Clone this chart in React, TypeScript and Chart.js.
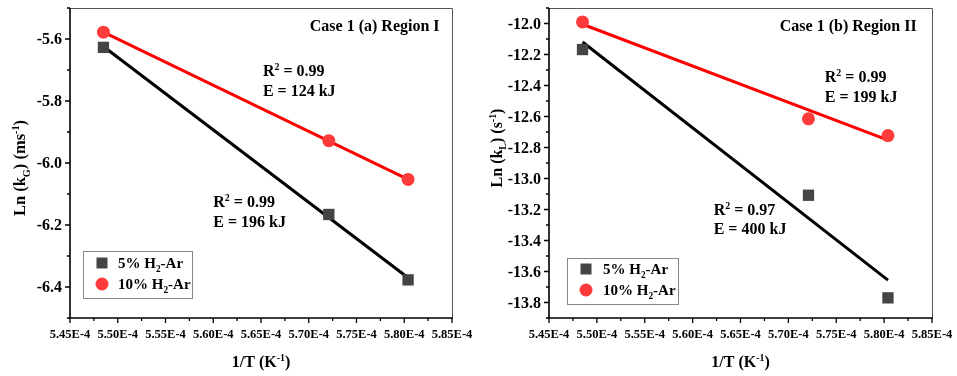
import React, { useEffect, useRef } from "react";
import { Chart, registerables } from "chart.js";
Chart.register(...registerables);

// ---------- data ----------
const invT = [5.485e-4, 5.721e-4, 5.804e-4];
const fitX = [5.485e-4, 5.804e-4];

const r1_h5 = [-5.627, -6.166, -6.377];
const r1_h10 = [-5.578, -5.928, -6.053];
const r1_fit5 = [-5.624, -6.37];
const r1_fit10 = [-5.578, -6.053];

const r2_h5 = [-12.168, -13.108, -13.77];
const r2_h10 = [-11.99, -12.615, -12.723];
const r2_fit5 = [-12.119, -13.656];
const r2_fit10 = [-12.005, -12.753];

const xMajor = [5.45e-4, 5.5e-4, 5.55e-4, 5.6e-4, 5.65e-4, 5.7e-4, 5.75e-4, 5.8e-4, 5.85e-4];
const xMinor = [5.475e-4, 5.525e-4, 5.575e-4, 5.625e-4, 5.675e-4, 5.725e-4, 5.775e-4, 5.825e-4];
const r1_yMajor = [-6.4, -6.2, -6.0, -5.8, -5.6];
const r1_yMinor = [-6.5, -6.3, -6.1, -5.9, -5.7, -5.5];
const r2_yMajor = [-13.8, -13.6, -13.4, -13.2, -13.0, -12.8, -12.6, -12.4, -12.2, -12.0];
const r2_yMinor = [-13.9, -13.7, -13.5, -13.3, -13.1, -12.9, -12.7, -12.5, -12.3, -12.1, -11.9];

const legendLabels = ["5% H|2|-Ar", "10% H|2|-Ar"];

type Seg = [string, number]; // 0 normal, 1 sub, 2 sup
const S = {
  r2: (v: string): Seg[] => [["R", 0], ["2", 2], [" = " + v, 0]],
};

const r1_notes = [
  { x: 5.837e-4, y: -5.574, segs: [["Case 1 (a) Region I", 0]] as Seg[], align: "right" },
  { x: 5.652e-4, y: -5.719, segs: S.r2("0.99"), align: "left" },
  { x: 5.652e-4, y: -5.784, segs: [["E = 124 kJ", 0]] as Seg[], align: "left" },
  { x: 5.600e-4, y: -6.142, segs: S.r2("0.99"), align: "left" },
  { x: 5.600e-4, y: -6.207, segs: [["E = 196 kJ", 0]] as Seg[], align: "left" },
];
const r2_notes = [
  { x: 5.834e-4, y: -12.048, segs: [["Case 1 (b) Region II", 0]] as Seg[], align: "right" },
  { x: 5.738e-4, y: -12.377, segs: S.r2("0.99"), align: "left" },
  { x: 5.738e-4, y: -12.506, segs: [["E = 199 kJ", 0]] as Seg[], align: "left" },
  { x: 5.622e-4, y: -13.235, segs: S.r2("0.97"), align: "left" },
  { x: 5.622e-4, y: -13.358, segs: [["E = 400 kJ", 0]] as Seg[], align: "left" },
];

const FONT = '"Liberation Serif", "Times New Roman", serif';
const SQ_COLOR = "#444444";
const CI_COLOR = "#ff3a3a";

function segWidth(ctx: CanvasRenderingContext2D, segs: Seg[], size: number) {
  let w = 0;
  for (const [t, m] of segs) {
    ctx.font = `bold ${m ? size * 0.62 : size}px ${FONT}`;
    w += ctx.measureText(t).width;
  }
  return w;
}
function drawRich(ctx: CanvasRenderingContext2D, segs: Seg[], x: number, y: number, size: number, align: string) {
  const total = segWidth(ctx, segs, size);
  let cx = align === "left" ? x : align === "center" ? x - total / 2 : x - total;
  ctx.textAlign = "left";
  ctx.textBaseline = "alphabetic";
  ctx.fillStyle = "#000";
  for (const [t, m] of segs) {
    const s = m ? size * 0.62 : size;
    const dy = m === 1 ? size * 0.28 : m === 2 ? -size * 0.38 : 0;
    ctx.font = `bold ${s}px ${FONT}`;
    ctx.fillText(t, cx, y + dy);
    cx += ctx.measureText(t).width;
  }
}
function parseLabel(l: string): Seg[] {
  const p = l.split("|");
  return [[p[0], 0], [p[1], 1], [p[2], 0]];
}

interface Panel {
  width: number;
  areaLeft: number;
  areaRight: number;
  yMin: number;
  yMax: number;
  yMajor: number[];
  yMinor: number[];
  h5: number[];
  h10: number[];
  fit5: number[];
  fit10: number[];
  notes: { x: number; y: number; segs: Seg[]; align: string }[];
  yTitle: Seg[];
  yTitleSize: number;
  yTitleX: number;
  yTitleY: number;
  legend: { left: number; top: number; w: number; h: number; mx: number; tx: number; y1: number; y2: number };
}

const panels: Panel[] = [
  {
    width: 478, areaLeft: 70, areaRight: 452, yMin: -6.5, yMax: -5.5,
    yMajor: r1_yMajor, yMinor: r1_yMinor, h5: r1_h5, h10: r1_h10, fit5: r1_fit5, fit10: r1_fit10,
    notes: r1_notes,
    yTitle: [["Ln (k", 0], ["G", 1], [") (ms", 0], ["-1", 2], [")", 0]],
    yTitleSize: 16.5,
    yTitleX: 25, yTitleY: 168,
    legend: { left: 83, top: 251, w: 109, h: 47, mx: 102, tx: 118, y1: 263, y2: 284 },
  },
  {
    width: 479, areaLeft: 71, areaRight: 454, yMin: -13.9, yMax: -11.9,
    yMajor: r2_yMajor, yMinor: r2_yMinor, h5: r2_h5, h10: r2_h10, fit5: r2_fit5, fit10: r2_fit10,
    notes: r2_notes,
    yTitle: [["Ln (k", 0], ["L", 1], [") (s", 0], ["-1", 2], [")", 0]],
    yTitleSize: 16,
    yTitleX: 24, yTitleY: 148,
    legend: { left: 89, top: 258, w: 111, h: 46, mx: 108, tx: 125, y1: 269, y2: 290 },
  },
];

const fmtX = (v: number) => (v * 1e4).toFixed(2) + "E-4";
const fmtY = (v: number) => v.toFixed(1);

function makeChart(canvas: HTMLCanvasElement, p: Panel) {
  const decor = {
    id: "decor",
    afterDraw(chart: any) {
      const ctx: CanvasRenderingContext2D = chart.ctx;
      const a = chart.chartArea;
      const xs = chart.scales.x;
      const ys = chart.scales.y;
      ctx.save();
      // frame top/right
      ctx.strokeStyle = "#555";
      ctx.lineWidth = 1;
      ctx.beginPath();
      ctx.moveTo(a.left, a.top + 0.5);
      ctx.lineTo(a.right + 0.5, a.top + 0.5);
      ctx.lineTo(a.right + 0.5, a.bottom);
      ctx.stroke();
      // axes
      ctx.strokeStyle = "#000";
      ctx.lineWidth = 1.6;
      ctx.beginPath();
      ctx.moveTo(a.left, a.top);
      ctx.lineTo(a.left, a.bottom);
      ctx.lineTo(a.right + 1, a.bottom);
      ctx.stroke();
      ctx.lineWidth = 1.3;
      ctx.beginPath();
      for (const v of xMajor) {
        const px = xs.getPixelForValue(v);
        ctx.moveTo(px, a.bottom);
        ctx.lineTo(px, a.bottom + 5);
      }
      for (const v of xMinor) {
        const px = xs.getPixelForValue(v);
        ctx.moveTo(px, a.bottom);
        ctx.lineTo(px, a.bottom + 3);
      }
      for (const v of p.yMajor) {
        const py = ys.getPixelForValue(v);
        ctx.moveTo(a.left, py);
        ctx.lineTo(a.left - 5, py);
      }
      for (const v of p.yMinor) {
        const py = ys.getPixelForValue(v);
        ctx.moveTo(a.left, py);
        ctx.lineTo(a.left - 3, py);
      }
      ctx.stroke();

      // tick labels
      ctx.fillStyle = "#000";
      ctx.textBaseline = "middle";
      ctx.font = `bold 12.5px ${FONT}`;
      ctx.textAlign = "center";
      for (const v of xMajor) {
        ctx.fillText(fmtX(v), xs.getPixelForValue(v), a.bottom + 17);
      }
      ctx.font = `bold 16px ${FONT}`;
      ctx.textAlign = "right";
      for (const v of p.yMajor) {
        ctx.fillText(fmtY(v), a.left - 8, ys.getPixelForValue(v) + 1);
      }

      // annotations
      for (const n of p.notes) {
        drawRich(ctx, n.segs, xs.getPixelForValue(n.x), ys.getPixelForValue(n.y), 16, n.align);
      }

      // x title
      drawRich(ctx, [["1/T (K", 0], ["-1", 2], [")", 0]], (a.left + a.right) / 2, 367, 16, "center");
      // y title
      ctx.save();
      ctx.translate(p.yTitleX, p.yTitleY);
      ctx.rotate(-Math.PI / 2);
      drawRich(ctx, p.yTitle, 0, 0, p.yTitleSize, "center");
      ctx.restore();

      // legend
      const L = p.legend;
      ctx.fillStyle = "#fff";
      ctx.fillRect(L.left, L.top, L.w, L.h);
      ctx.strokeStyle = "#888";
      ctx.lineWidth = 1;
      ctx.strokeRect(L.left + 0.5, L.top + 0.5, L.w, L.h);
      ctx.fillStyle = SQ_COLOR;
      ctx.fillRect(L.mx - 5.5, L.y1 - 5.5, 11, 11);
      ctx.fillStyle = CI_COLOR;
      ctx.beginPath();
      ctx.arc(L.mx, L.y2, 6.5, 0, Math.PI * 2);
      ctx.fill();
      drawRich(ctx, parseLabel(legendLabels[0]), L.tx, L.y1 + 5, 15, "left");
      drawRich(ctx, parseLabel(legendLabels[1]), L.tx, L.y2 + 5, 15, "left");
      ctx.restore();
    },
  };

  return new Chart(canvas, {
    type: "scatter",
    data: {
      datasets: [
        {
          label: "5% H2-Ar",
          data: invT.map((x, i) => ({ x, y: p.h5[i] })),
          pointStyle: "rect",
          pointRadius: 8,
          backgroundColor: SQ_COLOR,
          borderWidth: 0,
          order: 0,
        },
        {
          label: "10% H2-Ar",
          data: invT.map((x, i) => ({ x, y: p.h10[i] })),
          pointStyle: "circle",
          pointRadius: 6.5,
          backgroundColor: CI_COLOR,
          borderWidth: 0,
          order: 0,
        },
        {
          label: "fit5",
          data: fitX.map((x, i) => ({ x, y: p.fit5[i] })),
          showLine: true,
          pointRadius: 0,
          borderColor: "#000",
          borderWidth: 3,
          order: 1,
        },
        {
          label: "fit10",
          data: fitX.map((x, i) => ({ x, y: p.fit10[i] })),
          showLine: true,
          pointRadius: 0,
          borderColor: "#ff0000",
          borderWidth: 3,
          order: 1,
        },
      ],
    },
    options: {
      animation: false,
      responsive: false,
      devicePixelRatio: 1,
      layout: { padding: { top: 8, left: 0, bottom: 0, right: p.width - p.areaRight } },
      plugins: { legend: { display: false }, tooltip: { enabled: false } },
      scales: {
        x: {
          type: "linear",
          min: 5.45e-4,
          max: 5.85e-4,
          grid: { display: false, drawTicks: false },
          border: { display: false },
          ticks: { display: false },
          afterBuildTicks: (s: any) => {
            s.ticks = xMajor.map((v) => ({ value: v }));
          },
          afterFit: (s: any) => {
            s.height = 58;
          },
        },
        y: {
          type: "linear",
          min: p.yMin,
          max: p.yMax,
          grid: { display: false, drawTicks: false },
          border: { display: false },
          ticks: { display: false },
          afterBuildTicks: (s: any) => {
            s.ticks = p.yMajor.map((v) => ({ value: v }));
          },
          afterFit: (s: any) => {
            s.width = p.areaLeft;
          },
        },
      },
    },
    plugins: [decor],
  } as any);
}

function PanelChart({ p, left }: { p: Panel; left: number }) {
  const ref = useRef<HTMLCanvasElement>(null);
  useEffect(() => {
    if (!ref.current) return;
    const c = makeChart(ref.current, p);
    return () => c.destroy();
  }, [p]);
  return (
    <canvas
      ref={ref}
      width={p.width}
      height={376}
      style={{ position: "absolute", left, top: 0, width: p.width, height: 376 }}
    />
  );
}

export default function App() {
  useEffect(() => {
    document.body.style.margin = "0";
    document.body.style.background = "#fff";
  }, []);
  return (
    <div style={{ position: "relative", width: 957, height: 376, background: "#fff", overflow: "hidden" }}>
      <PanelChart p={panels[0]} left={0} />
      <PanelChart p={panels[1]} left={478} />
    </div>
  );
}
